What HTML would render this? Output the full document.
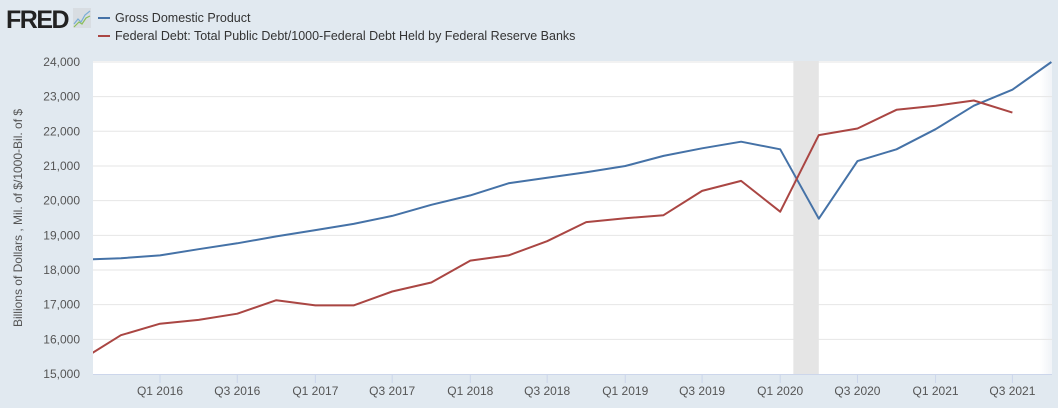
<!DOCTYPE html>
<html><head><meta charset="utf-8"><style>
body{margin:0;background:#e1e9f0;font-family:"Liberation Sans",sans-serif;}
svg text{font-family:"Liberation Sans",sans-serif;}
</style></head><body>
<svg width="1058" height="403" xmlns="http://www.w3.org/2000/svg">
<rect width="1058" height="403" fill="#e1e9f0"/>
<g>
<text x="6" y="28" font-size="25" font-weight="bold" fill="#222" letter-spacing="-1.5">FRED</text>
<rect x="73" y="8" width="18" height="20" fill="#d8dde2"/>
<polyline points="74,24 78,19 81,22 85,15 90,11" fill="none" stroke="#7aaed6" stroke-width="1.2"/>
<polyline points="74,27 79,22 82,24 86,18 90,16" fill="none" stroke="#8cbf5a" stroke-width="1.2"/>
</g>
<g>
<line x1="98" y1="18" x2="110" y2="18" stroke="#4572a7" stroke-width="2"/>
<text x="115" y="22" font-size="12.5" fill="#333">Gross Domestic Product</text>
<line x1="98" y1="36" x2="110" y2="36" stroke="#aa4643" stroke-width="2"/>
<text x="115" y="40" font-size="12.5" fill="#333">Federal Debt: Total Public Debt/1000-Federal Debt Held by Federal Reserve Banks</text>
</g>
<defs><clipPath id="pc"><rect x="93" y="55" width="959" height="320"/></clipPath>
<linearGradient id="rg" x1="0" x2="1"><stop offset="0" stop-color="#fff"/><stop offset="1" stop-color="#f0f3f7"/></linearGradient></defs>
<rect x="93" y="61" width="959" height="313" fill="#fff"/>
<rect x="1040" y="61" width="12" height="313" fill="url(#rg)"/>
<g id="grid"></g>
<g id="rec"></g>
<g id="series" clip-path="url(#pc)"></g>
<line x1="93" y1="374.5" x2="1052" y2="374.5" stroke="#ccd6eb"/>
<g id="xt"></g>
<g id="yt"></g>
<text transform="translate(22,218) rotate(-90)" text-anchor="middle" font-size="12" fill="#555">Billions of Dollars , Mil. of $/1000-Bil. of $</text>
</svg>
<script>
const quarters=["2015-07-01","2015-10-01","2016-01-01","2016-04-01","2016-07-01","2016-10-01","2017-01-01","2017-04-01","2017-07-01","2017-10-01","2018-01-01","2018-04-01","2018-07-01","2018-10-01","2019-01-01","2019-04-01","2019-07-01","2019-10-01","2020-01-01","2020-04-01","2020-07-01","2020-10-01","2021-01-01","2021-04-01","2021-07-01","2021-10-01"];
const gdp=[18300,18340,18420,18600,18770,18970,19150,19330,19560,19880,20150,20500,20660,20820,21000,21290,21510,21700,21480,19480,21140,21480,22060,22740,23200,24000];
const debt=[15420,16120,16450,16560,16740,17130,16980,16980,17380,17640,18270,18420,18830,19380,19490,19580,20280,20570,19680,21890,22080,22620,22740,22890,22540];
const yTicks=[15000,16000,17000,18000,19000,20000,21000,22000,23000,24000];
const yLabels=["15,000","16,000","17,000","18,000","19,000","20,000","21,000","22,000","23,000","24,000"];
const xTickDates=["2016-01-01","2016-07-01","2017-01-01","2017-07-01","2018-01-01","2018-07-01","2019-01-01","2019-07-01","2020-01-01","2020-07-01","2021-01-01","2021-07-01"];
const xTickLabels=["Q1 2016","Q3 2016","Q1 2017","Q3 2017","Q1 2018","Q3 2018","Q1 2019","Q3 2019","Q1 2020","Q3 2020","Q1 2021","Q3 2021"];
const recession=["2020-02-01","2020-04-01"];
const NS="http://www.w3.org/2000/svg";
const d0=Date.parse("2016-01-01");
function X(d){return 160+(Date.parse(d)-d0)/864e5*0.4245;}
function Y(v){return 374-(v-15000)*0.03467;}
function mk(t,a,p){const e=document.createElementNS(NS,t);for(const k in a)e.setAttribute(k,a[k]);document.getElementById(p).appendChild(e);return e;}
yTicks.forEach((v,i)=>{
 if(v>15000){const l=mk("line",{x1:93,x2:1052,y1:Y(v),y2:Y(v),stroke:"#e6e6e6"},"grid");
 
 }
 const t=mk("text",{x:80,y:Y(v)+4,"text-anchor":"end","font-size":"12",fill:"#555"},"yt");
 t.textContent=yLabels[i];
 
 
});
xTickDates.forEach((d,i)=>{
 const x=X(d);
 const l=mk("line",{x1:x,x2:x,y1:374,y2:383,stroke:"#ccd6eb"},"xt");
 
 
 const t=mk("text",{x:x,y:395,"text-anchor":"middle","font-size":"12",fill:"#555"},"xt");
 t.textContent=xTickLabels[i];
 
 
});
const r=mk("rect",{x:X(recession[0]),y:61,width:X(recession[1])-X(recession[0]),height:313,fill:"#e5e5e5"},"rec");


function line(vals,color,name){
 const pts=vals.map((v,i)=>X(quarters[i]).toFixed(1)+","+Y(v).toFixed(1)).join(" ");
 const p=mk("polyline",{points:pts,fill:"none",stroke:color,"stroke-width":2,"stroke-linejoin":"round"},"series");
 
 
}
line(gdp,"#4572a7","gdp-line");
line(debt,"#aa4643","federal-debt-line");
</script>
</body></html>
